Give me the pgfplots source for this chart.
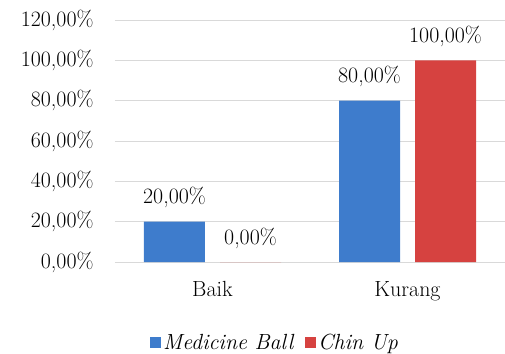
\documentclass[border=0pt]{standalone}
\usepackage{fontspec}
\setmainfont{Latin Modern Roman}
\usepackage{pgfplots}
\pgfplotsset{compat=1.18}
\definecolor{mbblue}{RGB}{62,124,204}
\definecolor{mbblueD}{RGB}{40,85,150}
\definecolor{cured}{RGB}{214,66,64}
\definecolor{curedD}{RGB}{150,40,38}
\definecolor{gridc}{RGB}{217,217,217}
\begin{document}
\fontsize{22pt}{26pt}\selectfont
\begin{tikzpicture}
\path[use as bounding box] (-115bp,-92bp) rectangle (390bp,262bp);
\begin{axis}[
  scale only axis,
  width=390bp, height=242bp,
  ybar=15bp,
  bar width=61bp,
  xmin=-0.5, xmax=1.5,
  ymin=0, ymax=120,
  xtick={0,1},
  xticklabels={Baik,Kurang},
  ytick={0,20,40,60,80,100,120},
  yticklabel={\pgfmathprintnumber[fixed,fixed zerofill,precision=2,use comma]{\tick}\%},
  /pgf/number format/assume math mode=true,
  ymajorgrids,
  grid style={gridc, line width=1pt},
  axis lines=left,
  x axis line style={gridc, line width=1pt, -},
  y axis line style={draw=none},
  major tick length=0pt,
  tick label style={font=\fontsize{22pt}{26pt}\selectfont},
  yticklabel style={xshift=-14bp},
  xticklabel style={yshift=-12bp},
  nodes near coords={\pgfmathprintnumber[fixed,fixed zerofill,precision=2,use comma]{\pgfplotspointmeta}\%},
  nodes near coords style={font=\fontsize{22pt}{26pt}\selectfont, yshift=6bp},
  legend style={at={(0.41,-0.335)}, anchor=center, draw=none, legend columns=2,
    font=\fontsize{22pt}{26pt}\selectfont\itshape,
    /tikz/every even column/.append style={column sep=10bp}},
  legend image code/.code={\fill[#1] (0bp,-5bp) rectangle (11bp,6bp);},
]
\addplot[fill=mbblue, draw=none] coordinates {(0,20) (1,80)};
\addplot[fill=cured, draw=none] coordinates {(0,0) (1,100)};
\legend{Medicine Ball, Chin Up}
\end{axis}
\end{tikzpicture}
\end{document}
